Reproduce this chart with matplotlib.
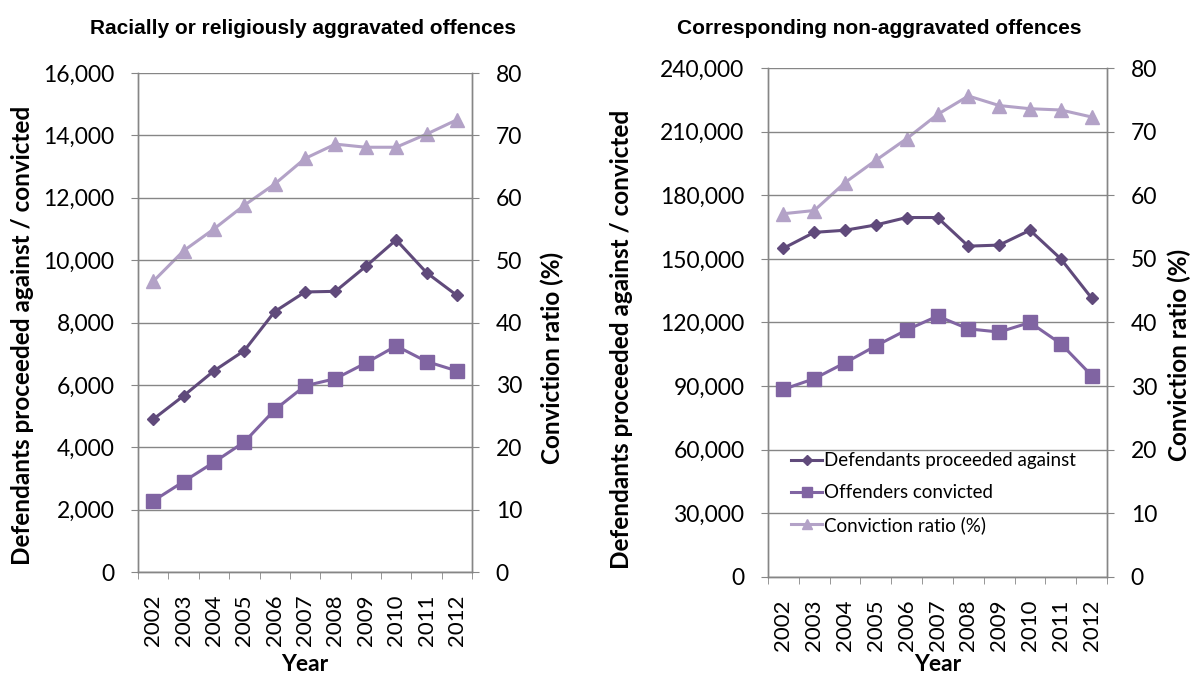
import matplotlib
matplotlib.use("Agg")
import matplotlib.pyplot as plt
from matplotlib.ticker import FuncFormatter, FixedLocator

years = ["2002", "2003", "2004", "2005", "2006", "2007", "2008", "2009", "2010", "2011", "2012"]

agg_defendants = [4900, 5650, 6450, 7100, 8350, 8980, 9000, 9800, 10650, 9600, 8870]
agg_convicted = [2280, 2900, 3520, 4170, 5200, 5970, 6200, 6700, 7250, 6750, 6450]
agg_ratio = [46.6, 51.5, 55.0, 58.8, 62.2, 66.3, 68.6, 68.1, 68.1, 70.2, 72.5]

non_defendants = [155000, 162500, 163500, 166000, 169500, 169500, 156000, 156500, 163500, 150000, 131500]
non_convicted = [88500, 93500, 101000, 109000, 116500, 123000, 117000, 115500, 120000, 110000, 95000]
non_ratio = [57.1, 57.6, 62.0, 65.5, 68.9, 72.7, 75.6, 74.1, 73.6, 73.4, 72.3]

titles = ["Racially or religiously aggravated offences", "Corresponding non-aggravated offences"]
legend_labels = ["Defendants proceeded against", "Offenders convicted", "Conviction ratio (%)"]

c_def = "#604A7B"
c_con = "#8064A2"
c_rat = "#B3A2C7"
grid_c = "#868686"

fig = plt.figure(figsize=(11.9, 6.78), dpi=100)

panels = [
    dict(rect=[0.116, 0.1563, 0.2807, 0.736], d=agg_defendants, c=agg_convicted, r=agg_ratio,
         ymax=16000, step=2000, title=titles[0], tx=303 / 1190, legend=False,
         lcoord=(-0.347, 0.475), rcoord=(1.240, 0.43), xpad=6),
    dict(rect=[0.6454, 0.149, 0.2849, 0.7507], d=non_defendants, c=non_convicted, r=non_ratio,
         ymax=240000, step=30000, title=titles[1], tx=879 / 1190, legend=True,
         lcoord=(-0.431, 0.466), rcoord=(1.212, 0.436), xpad=2),
]

tick_font = "Lato"
x = list(range(len(years)))

for p in panels:
    ax = fig.add_axes(p["rect"])
    ax2 = ax.twinx()
    ax.set_zorder(ax2.get_zorder() + 1)
    ax.patch.set_visible(False)

    l1, = ax.plot(x, p["d"], color=c_def, lw=2.2, marker="D", ms=6.5, zorder=5)
    l2, = ax.plot(x, p["c"], color=c_con, lw=2.2, marker="s", ms=9.5, zorder=4)
    l3, = ax2.plot(x, p["r"], color=c_rat, lw=2.2, marker="^", ms=9.5, zorder=3)

    ax.set_xlim(-0.5, len(years) - 0.5)
    ax.set_ylim(0, p["ymax"])
    ax2.set_ylim(0, 80)
    ax.set_yticks(range(0, p["ymax"] + 1, p["step"]))
    ax2.set_yticks(range(0, 81, 10))
    ax.yaxis.set_major_formatter(FuncFormatter(lambda v, pos: f"{int(v):,}"))
    ax.grid(axis="y", color=grid_c, lw=1.0)
    ax.set_axisbelow(True)

    ax.set_xticks(x)
    ax.set_xticklabels(years, rotation=90, fontsize=16, family=tick_font)
    ax.xaxis.set_minor_locator(FixedLocator([i - 0.5 for i in range(len(years) + 1)]))
    ax.tick_params(axis="x", which="major", length=0, pad=16)
    ax.tick_params(axis="x", which="minor", length=5, color=grid_c, direction="out")
    ax.tick_params(axis="y", length=5, color=grid_c, labelsize=16.5, pad=12)
    ax2.tick_params(axis="y", length=5, color=grid_c, labelsize=16.5, pad=12)
    for lab in ax.get_yticklabels() + ax2.get_yticklabels():
        lab.set_family(tick_font)

    for a in (ax, ax2):
        a.spines["top"].set_visible(False)
        for s in ["left", "right", "bottom"]:
            a.spines[s].set_color(grid_c)
            a.spines[s].set_linewidth(1.0)

    ax.set_xlabel("Year", fontsize=16.5, fontweight="bold", family="Lato", labelpad=p["xpad"])
    ax.set_ylabel("Defendants proceeded against / convicted", fontsize=17.5, fontweight="bold",
                  family="Lato", va="center", ha="center")
    ax2.set_ylabel("Conviction ratio (%)", fontsize=17.5, fontweight="bold", family="Lato",
                   va="center", ha="center")
    ax.yaxis.set_label_coords(*p["lcoord"])
    ax2.yaxis.set_label_coords(*p["rcoord"])
    fig.text(p["tx"], 1 - 28 / 678, p["title"], fontsize=15, fontweight="bold",
             family="Liberation Sans", ha="center", va="center")

    if p["legend"]:
        ax.legend([l1, l2, l3], legend_labels, loc="upper left", bbox_to_anchor=(0.046, 0.26),
                  frameon=False, prop={"family": "Lato", "size": 13.5}, handlelength=1.65,
                  handletextpad=0.1, labelspacing=0.8, markerscale=0.75, borderaxespad=0)

fig.savefig("out.png", dpi=100)
